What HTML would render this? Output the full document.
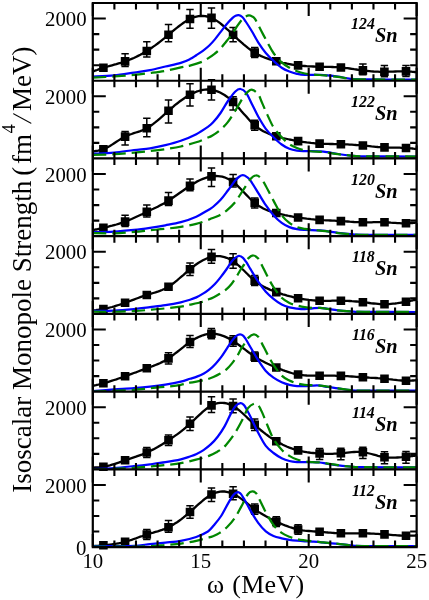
<!DOCTYPE html>
<html><head><meta charset="utf-8"><title>Isoscalar Monopole Strength - Sn isotopes</title>
<style>html,body{margin:0;padding:0;background:#fff;}body{width:429px;height:600px;overflow:hidden;font-family:"Liberation Serif",serif;}svg{display:block;will-change:transform;opacity:0.9999;}text{font-family:"Liberation Serif",serif;fill:#000;}</style>
</head><body>
<svg width="429" height="600" viewBox="0 0 429 600">
<rect x="0" y="0" width="429" height="600" fill="#fff"/>
<defs><clipPath id="clipall"><rect x="92.80" y="3.00" width="323.85" height="544.11"/></clipPath>
<clipPath id="cp0"><rect x="91.80" y="3.00" width="325.85" height="77.73"/></clipPath>
<clipPath id="cp1"><rect x="91.80" y="80.73" width="325.85" height="77.73"/></clipPath>
<clipPath id="cp2"><rect x="91.80" y="158.46" width="325.85" height="77.73"/></clipPath>
<clipPath id="cp3"><rect x="91.80" y="236.19" width="325.85" height="77.73"/></clipPath>
<clipPath id="cp4"><rect x="91.80" y="313.92" width="325.85" height="77.73"/></clipPath>
<clipPath id="cp5"><rect x="91.80" y="391.65" width="325.85" height="77.73"/></clipPath>
<clipPath id="cp6"><rect x="91.80" y="469.38" width="325.85" height="77.73"/></clipPath>
</defs>
<path clip-path="url(#cp0)" d="M92.8,71.5L93.9,71.1L94.9,70.7L96.0,70.3L97.0,70.0L98.1,69.6L99.2,69.2L100.2,68.9L101.3,68.5L102.3,68.1L103.4,67.8L105.6,67.1L107.7,66.5L109.9,65.9L112.1,65.3L114.2,64.7L116.4,64.1L118.6,63.4L120.8,62.8L122.9,62.1L125.1,61.4L127.3,60.6L129.4,59.8L131.6,58.9L133.8,58.0L135.9,57.0L138.1,55.9L140.3,54.8L142.5,53.6L144.6,52.3L146.8,51.0L149.0,49.6L151.1,48.2L153.3,46.6L155.5,45.1L157.7,43.5L159.8,41.8L162.0,40.1L164.2,38.4L166.3,36.6L168.5,34.8L170.7,33.0L172.8,31.2L174.9,29.4L177.1,27.7L179.2,26.0L181.4,24.4L183.6,22.8L185.7,21.4L187.8,20.1L190.0,19.0L192.2,18.0L194.3,17.2L196.4,16.6L198.6,16.2L200.8,16.0L202.9,15.9L205.1,16.1L207.2,16.5L209.3,17.1L211.5,17.9L213.7,19.0L215.8,20.2L218.0,21.6L220.1,23.2L222.3,25.0L224.5,26.8L226.6,28.8L228.8,30.7L230.9,32.8L233.1,34.8L235.3,36.8L237.4,38.8L239.6,40.8L241.7,42.7L243.9,44.6L246.1,46.4L248.2,48.1L250.4,49.7L252.5,51.2L254.7,52.6L256.9,53.9L259.0,55.0L261.2,56.1L263.3,57.0L265.5,57.9L267.7,58.6L269.8,59.4L272.0,60.0L274.1,60.6L276.3,61.2L278.5,61.8L280.7,62.3L282.8,62.8L285.0,63.2L287.2,63.7L289.4,64.1L291.6,64.5L293.7,64.8L295.9,65.1L298.1,65.4L300.2,65.6L302.4,65.8L304.6,66.0L306.7,66.2L308.9,66.3L311.0,66.4L313.2,66.5L315.3,66.6L317.5,66.6L319.6,66.7L321.7,66.7L323.9,66.8L326.0,66.8L328.1,66.9L330.2,66.9L332.4,67.0L334.5,67.1L336.6,67.2L338.8,67.3L340.9,67.5L343.1,67.7L345.3,68.0L347.5,68.2L349.7,68.5L351.9,68.8L354.1,69.2L356.3,69.5L358.5,69.8L360.7,70.1L362.9,70.4L365.0,70.7L367.2,70.9L369.3,71.1L371.5,71.3L373.6,71.5L375.8,71.6L377.9,71.7L380.1,71.8L382.2,71.8L384.4,71.8L386.6,71.8L388.7,71.7L390.9,71.6L393.0,71.6L395.2,71.5L397.4,71.4L399.5,71.4L401.7,71.3L403.8,71.3L406.0,71.4L407.1,71.4L408.1,71.5L409.2,71.6L410.2,71.6L411.3,71.7L412.4,71.8L413.4,71.9L414.5,72.0L415.5,72.1L416.6,72.2" fill="none" stroke="#000" stroke-width="2.3" stroke-linejoin="round"/>
<path d="M125.1,53.8V66.4M121.4,53.8H128.8M121.4,66.4H128.8M146.8,41.8V57.0M143.1,41.8H150.5M143.1,57.0H150.5M168.5,24.6V41.8M164.8,24.6H172.2M164.8,41.8H172.2M190.0,9.5V28.2M186.3,9.5H193.7M186.3,28.2H193.7M211.5,8.0V28.2M207.8,8.0H215.2M207.8,28.2H215.2M233.1,27.4V41.8M229.4,27.4H236.8M229.4,41.8H236.8M254.7,47.6V57.6M251.0,47.6H258.4M251.0,57.6H258.4M362.9,63.9V74.8M359.2,63.9H366.6M359.2,74.8H366.6M384.4,65.5V76.7M380.7,65.5H388.1M380.7,76.7H388.1M406.0,65.4V76.5M402.3,65.4H409.7M402.3,76.5H409.7" stroke="#000" stroke-width="1.5" fill="none"/>
<path d="M99.1,63.5h8.6v8.6h-8.6zM120.8,57.1h8.6v8.6h-8.6zM142.5,46.7h8.6v8.6h-8.6zM164.2,30.5h8.6v8.6h-8.6zM185.7,14.7h8.6v8.6h-8.6zM207.2,13.6h8.6v8.6h-8.6zM228.8,30.5h8.6v8.6h-8.6zM250.4,48.3h8.6v8.6h-8.6zM272.0,56.9h8.6v8.6h-8.6zM293.8,61.1h8.6v8.6h-8.6zM315.3,62.4h8.6v8.6h-8.6zM336.6,63.2h8.6v8.6h-8.6zM358.6,66.1h8.6v8.6h-8.6zM380.1,67.5h8.6v8.6h-8.6zM401.7,67.1h8.6v8.6h-8.6z" fill="#000"/>
<g clip-path="url(#cp0)">
<path d="M92.80,76.50C96.33,76.32 107.13,76.05 114.00,75.40C120.87,74.75 128.00,73.47 134.00,72.60C140.00,71.73 144.77,71.21 150.00,70.20C155.23,69.19 160.27,67.74 165.40,66.51C170.53,65.29 176.70,64.09 180.80,62.85C184.90,61.62 187.42,60.37 190.00,59.10C192.58,57.83 194.11,56.61 196.26,55.23C198.40,53.84 200.69,52.42 202.86,50.80C205.04,49.18 207.26,47.45 209.30,45.50C211.34,43.55 213.17,41.42 215.10,39.10C217.03,36.78 218.95,34.12 220.90,31.60C222.85,29.08 224.85,26.28 226.80,24.00C228.75,21.72 231.14,19.27 232.60,17.90C234.06,16.53 234.55,16.25 235.58,15.80C236.60,15.35 237.62,15.00 238.74,15.20C239.86,15.40 241.13,15.95 242.29,17.00C243.45,18.05 244.08,19.08 245.69,21.50C247.31,23.92 249.92,28.03 252.00,31.50C254.08,34.97 255.90,38.72 258.20,42.30C260.50,45.88 263.25,49.92 265.80,53.00C268.35,56.08 270.85,58.35 273.50,60.80C276.15,63.25 279.05,65.92 281.70,67.70C284.35,69.48 286.85,70.48 289.40,71.50C291.95,72.52 294.43,73.23 297.00,73.80C299.57,74.37 300.97,74.72 304.80,74.90C308.63,75.08 316.17,74.82 320.00,74.90C323.83,74.98 324.80,75.08 327.80,75.37C330.80,75.65 334.18,76.04 338.00,76.61C341.82,77.18 346.20,78.34 350.70,78.80C355.20,79.26 354.02,79.27 365.00,79.40C375.98,79.53 408.00,79.57 416.60,79.60" fill="none" stroke="#0000ff" stroke-width="2.25"/>
<path d="M92.80,77.70C96.33,77.50 107.13,76.97 114.00,76.50C120.87,76.03 128.00,75.48 134.00,74.90C140.00,74.32 144.77,73.68 150.00,73.00C155.23,72.32 160.27,71.73 165.40,70.80C170.53,69.87 176.70,68.27 180.80,67.40C184.90,66.53 186.50,66.52 190.00,65.60C193.50,64.68 198.81,63.10 201.82,61.90C204.82,60.70 205.96,59.70 208.02,58.40C210.08,57.10 212.20,55.67 214.20,54.10C216.20,52.53 218.05,51.02 220.00,49.00C221.95,46.98 223.95,44.42 225.90,42.00C227.85,39.58 229.77,37.22 231.70,34.50C233.63,31.78 235.97,27.95 237.50,25.70C239.03,23.45 239.76,22.40 240.90,21.00C242.04,19.60 243.01,18.23 244.35,17.30C245.69,16.37 247.64,15.53 248.94,15.40C250.24,15.27 251.14,15.87 252.17,16.50C253.20,17.13 253.63,16.82 255.14,19.20C256.64,21.58 259.16,26.95 261.20,30.80C263.24,34.65 265.35,38.60 267.40,42.30C269.45,46.00 271.12,49.67 273.50,53.00C275.88,56.33 279.05,59.85 281.70,62.30C284.35,64.75 286.85,66.22 289.40,67.70C291.95,69.18 294.43,70.23 297.00,71.20C299.57,72.17 302.22,72.93 304.80,73.50C307.38,74.07 309.97,74.35 312.50,74.60C315.03,74.85 317.45,74.81 320.00,75.00C322.55,75.19 324.80,75.47 327.80,75.77C330.80,76.07 334.18,76.31 338.00,76.81C341.82,77.32 346.20,78.37 350.70,78.80C355.20,79.23 354.02,79.27 365.00,79.40C375.98,79.53 408.00,79.57 416.60,79.60" fill="none" stroke="#008700" stroke-width="2.25" stroke-dasharray="13.5,5.9" stroke-dashoffset="0"/>
</g>
<path clip-path="url(#cp1)" d="M92.8,151.5L93.9,151.4L94.9,151.2L96.0,151.0L97.0,150.9L98.1,150.7L99.2,150.4L100.2,150.2L101.3,149.9L102.3,149.6L103.4,149.2L105.6,148.3L107.7,147.2L109.9,146.0L112.1,144.6L114.2,143.2L116.4,141.8L118.6,140.4L120.8,139.0L122.9,137.7L125.1,136.6L127.3,135.6L129.4,134.7L131.6,134.0L133.8,133.2L135.9,132.5L138.1,131.8L140.3,131.1L142.5,130.2L144.6,129.3L146.8,128.2L149.0,126.9L151.1,125.5L153.3,123.9L155.5,122.2L157.7,120.4L159.8,118.6L162.0,116.7L164.2,114.7L166.3,112.7L168.5,110.8L170.7,108.9L172.8,107.1L174.9,105.2L177.1,103.5L179.2,101.8L181.4,100.2L183.6,98.7L185.7,97.3L187.8,95.9L190.0,94.7L192.2,93.6L194.3,92.6L196.4,91.7L198.6,91.0L200.8,90.4L202.9,89.9L205.1,89.7L207.2,89.5L209.3,89.6L211.5,89.8L213.7,90.2L215.8,90.8L218.0,91.6L220.1,92.5L222.3,93.7L224.5,95.0L226.6,96.5L228.8,98.1L230.9,100.0L233.1,102.0L235.3,104.2L237.4,106.5L239.6,108.9L241.7,111.4L243.9,113.9L246.1,116.3L248.2,118.8L250.4,121.1L252.5,123.2L254.7,125.2L256.9,127.0L259.0,128.6L261.2,129.9L263.3,131.2L265.5,132.3L267.7,133.2L269.8,134.1L272.0,134.9L274.1,135.6L276.3,136.2L278.5,136.8L280.7,137.4L282.8,138.0L285.0,138.5L287.2,139.0L289.4,139.5L291.6,139.9L293.7,140.3L295.9,140.7L298.1,141.1L300.2,141.5L302.4,141.8L304.6,142.1L306.7,142.4L308.9,142.6L311.0,142.9L313.2,143.1L315.3,143.3L317.5,143.5L319.6,143.6L321.7,143.7L323.9,143.8L326.0,143.9L328.1,143.9L330.2,144.0L332.4,144.0L334.5,144.1L336.6,144.1L338.8,144.1L340.9,144.2L343.1,144.3L345.3,144.3L347.5,144.4L349.7,144.6L351.9,144.7L354.1,144.8L356.3,145.0L358.5,145.1L360.7,145.3L362.9,145.5L365.1,145.7L367.2,145.9L369.4,146.1L371.5,146.4L373.7,146.6L375.9,146.8L378.0,147.0L380.2,147.1L382.3,147.3L384.5,147.4L386.6,147.5L388.8,147.6L390.9,147.6L393.1,147.6L395.2,147.7L397.4,147.7L399.6,147.7L401.7,147.8L403.9,147.9L406.0,148.0L407.1,148.1L408.1,148.2L409.2,148.2L410.2,148.3L411.3,148.4L412.4,148.5L413.4,148.7L414.5,148.8L415.5,148.9L416.6,149.0" fill="none" stroke="#000" stroke-width="2.3" stroke-linejoin="round"/>
<path d="M125.1,131.6V144.9M121.4,131.6H128.8M121.4,144.9H128.8M146.8,118.3V136.8M143.1,118.3H150.5M143.1,136.8H150.5M168.5,100.0V122.9M164.8,100.0H172.2M164.8,122.9H172.2M190.0,83.8V106.0M186.3,83.8H193.7M186.3,106.0H193.7M211.5,79.8V100.0M207.8,79.8H215.2M207.8,100.0H215.2M233.1,96.8V109.9M229.4,96.8H236.8M229.4,109.9H236.8M254.7,120.2V130.2M251.0,120.2H258.4M251.0,130.2H258.4" stroke="#000" stroke-width="1.5" fill="none"/>
<path d="M99.1,144.9h8.6v8.6h-8.6zM120.8,132.3h8.6v8.6h-8.6zM142.5,123.9h8.6v8.6h-8.6zM164.2,106.5h8.6v8.6h-8.6zM185.7,90.4h8.6v8.6h-8.6zM207.2,85.5h8.6v8.6h-8.6zM228.8,97.7h8.6v8.6h-8.6zM250.4,120.9h8.6v8.6h-8.6zM272.0,131.9h8.6v8.6h-8.6zM293.8,136.8h8.6v8.6h-8.6zM315.3,139.3h8.6v8.6h-8.6zM336.6,139.9h8.6v8.6h-8.6zM358.6,141.2h8.6v8.6h-8.6zM380.2,143.1h8.6v8.6h-8.6zM401.7,143.7h8.6v8.6h-8.6z" fill="#000"/>
<g clip-path="url(#cp1)">
<path d="M92.80,153.70C96.33,153.52 107.13,153.22 114.00,152.60C120.87,151.98 128.00,150.72 134.00,150.00C140.00,149.28 144.77,149.10 150.00,148.30C155.23,147.50 160.27,146.45 165.40,145.20C170.53,143.95 175.65,142.63 180.80,140.80C185.95,138.97 191.79,136.52 196.31,134.20C200.82,131.88 205.13,128.83 207.90,126.90C210.67,124.97 210.79,124.92 212.90,122.60C215.01,120.28 218.03,116.60 220.54,113.00C223.04,109.40 225.48,104.58 227.95,101.00C230.42,97.42 233.25,93.50 235.34,91.50C237.44,89.50 238.72,88.82 240.50,89.00C242.28,89.18 244.08,90.07 246.00,92.60C247.92,95.13 249.97,100.22 252.00,104.20C254.03,108.18 255.90,112.40 258.20,116.50C260.50,120.60 263.25,125.35 265.80,128.80C268.35,132.25 270.85,134.58 273.50,137.20C276.15,139.82 279.05,142.57 281.70,144.50C284.35,146.43 286.85,147.78 289.40,148.80C291.95,149.82 294.43,150.22 297.00,150.60C299.57,150.98 300.97,150.97 304.80,151.10C308.63,151.23 316.17,151.22 320.00,151.40C323.83,151.58 324.80,151.77 327.80,152.20C330.80,152.63 334.18,153.43 338.00,154.00C341.82,154.57 346.20,155.20 350.70,155.60C355.20,156.00 354.02,156.25 365.00,156.40C375.98,156.55 408.00,156.48 416.60,156.50" fill="none" stroke="#0000ff" stroke-width="2.25"/>
<path d="M92.80,154.90C96.33,154.78 107.13,154.58 114.00,154.20C120.87,153.82 128.00,153.13 134.00,152.60C140.00,152.07 144.77,151.58 150.00,151.00C155.23,150.42 160.27,149.85 165.40,149.10C170.53,148.35 175.67,147.63 180.80,146.50C185.93,145.37 191.83,143.72 196.20,142.30C200.57,140.88 204.37,139.10 207.00,138.00C209.63,136.90 209.88,136.98 212.00,135.70C214.12,134.42 217.13,132.48 219.70,130.30C222.27,128.12 224.83,125.82 227.40,122.60C229.97,119.38 232.53,115.10 235.10,111.00C237.67,106.90 240.70,101.20 242.80,98.00C244.90,94.80 246.12,93.17 247.70,91.80C249.28,90.43 250.55,89.40 252.30,89.80C254.05,90.20 256.58,92.07 258.20,94.20C259.82,96.33 260.47,99.15 262.00,102.60C263.53,106.05 265.48,110.80 267.40,114.90C269.32,119.00 271.12,123.48 273.50,127.20C275.88,130.92 279.05,134.37 281.70,137.20C284.35,140.03 286.85,142.40 289.40,144.20C291.95,146.00 294.43,146.98 297.00,148.00C299.57,149.02 302.22,149.72 304.80,150.30C307.38,150.88 309.97,151.25 312.50,151.50C315.03,151.75 317.45,151.62 320.00,151.80C322.55,151.98 324.80,152.20 327.80,152.60C330.80,153.00 334.18,153.70 338.00,154.20C341.82,154.70 346.20,155.23 350.70,155.60C355.20,155.97 354.02,156.25 365.00,156.40C375.98,156.55 408.00,156.48 416.60,156.50" fill="none" stroke="#008700" stroke-width="2.25" stroke-dasharray="13.5,5.9" stroke-dashoffset="0"/>
</g>
<path clip-path="url(#cp2)" d="M92.8,230.2L93.9,230.0L94.9,229.7L96.0,229.5L97.0,229.3L98.1,229.0L99.2,228.8L100.2,228.5L101.3,228.3L102.3,228.0L103.4,227.8L105.6,227.3L107.7,226.8L109.9,226.2L112.1,225.7L114.2,225.1L116.4,224.5L118.6,223.8L120.8,223.1L122.9,222.4L125.1,221.6L127.3,220.8L129.4,219.9L131.6,219.0L133.8,218.0L135.9,217.0L138.1,216.0L140.3,215.0L142.5,214.0L144.6,212.9L146.8,211.9L149.0,210.9L151.1,209.8L153.3,208.8L155.5,207.7L157.7,206.7L159.8,205.5L162.0,204.4L164.2,203.2L166.3,201.9L168.5,200.6L170.7,199.2L172.8,197.8L174.9,196.3L177.1,194.8L179.2,193.3L181.4,191.7L183.6,190.2L185.7,188.7L187.8,187.2L190.0,185.8L192.2,184.4L194.3,183.2L196.4,181.9L198.6,180.8L200.8,179.8L202.9,178.9L205.1,178.1L207.2,177.4L209.3,176.8L211.5,176.4L213.7,176.1L215.8,176.0L218.0,176.1L220.1,176.3L222.3,176.7L224.5,177.3L226.6,178.2L228.8,179.2L230.9,180.5L233.1,182.0L235.3,183.7L237.4,185.7L239.6,187.8L241.7,190.0L243.9,192.3L246.1,194.6L248.2,196.8L250.4,199.0L252.5,201.0L254.7,202.9L256.9,204.6L259.0,206.0L261.2,207.3L263.3,208.5L265.5,209.5L267.7,210.3L269.8,211.1L272.0,211.8L274.1,212.4L276.3,213.0L278.5,213.6L280.7,214.1L282.8,214.6L285.0,215.1L287.2,215.5L289.4,216.0L291.6,216.4L293.7,216.8L295.9,217.2L298.1,217.5L300.2,217.8L302.4,218.1L304.6,218.4L306.7,218.7L308.9,218.9L311.0,219.2L313.2,219.4L315.3,219.6L317.5,219.7L319.6,219.9L321.7,220.0L323.9,220.2L326.0,220.3L328.1,220.4L330.2,220.5L332.4,220.6L334.5,220.7L336.6,220.9L338.8,221.0L340.9,221.1L343.1,221.2L345.3,221.4L347.5,221.5L349.7,221.7L351.9,221.8L354.1,222.0L356.3,222.1L358.5,222.2L360.7,222.2L362.9,222.3L365.1,222.3L367.2,222.3L369.4,222.3L371.5,222.3L373.7,222.2L375.9,222.2L378.0,222.2L380.2,222.2L382.3,222.2L384.5,222.3L386.6,222.4L388.8,222.5L390.9,222.7L393.1,222.8L395.2,222.9L397.4,223.1L399.6,223.2L401.7,223.3L403.9,223.3L406.0,223.3L407.1,223.3L408.1,223.2L409.2,223.2L410.2,223.1L411.3,223.0L412.4,223.0L413.4,222.9L414.5,222.8L415.5,222.7L416.6,222.6" fill="none" stroke="#000" stroke-width="2.3" stroke-linejoin="round"/>
<path d="M125.1,215.2V226.6M121.4,215.2H128.8M121.4,226.6H128.8M146.8,204.9V216.9M143.1,204.9H150.5M143.1,216.9H150.5M168.5,192.6V205.6M164.8,192.6H172.2M164.8,205.6H172.2M190.0,179.0V190.8M186.3,179.0H193.7M186.3,190.8H193.7M211.5,168.0V186.4M207.8,168.0H215.2M207.8,186.4H215.2M233.1,174.5V187.0M229.4,174.5H236.8M229.4,187.0H236.8M254.7,197.9V207.9M251.0,197.9H258.4M251.0,207.9H258.4" stroke="#000" stroke-width="1.5" fill="none"/>
<path d="M99.1,223.5h8.6v8.6h-8.6zM120.8,217.3h8.6v8.6h-8.6zM142.5,207.6h8.6v8.6h-8.6zM164.2,196.3h8.6v8.6h-8.6zM185.7,181.5h8.6v8.6h-8.6zM207.2,172.1h8.6v8.6h-8.6zM228.8,177.7h8.6v8.6h-8.6zM250.4,198.6h8.6v8.6h-8.6zM272.0,208.7h8.6v8.6h-8.6zM293.8,213.2h8.6v8.6h-8.6zM315.3,215.6h8.6v8.6h-8.6zM336.6,216.8h8.6v8.6h-8.6zM358.6,218.0h8.6v8.6h-8.6zM380.2,218.0h8.6v8.6h-8.6zM401.7,219.0h8.6v8.6h-8.6z" fill="#000"/>
<g clip-path="url(#cp2)">
<path d="M92.80,232.20C96.33,232.11 107.13,232.04 114.00,231.66C120.87,231.28 128.00,230.54 134.00,229.90C140.00,229.26 144.77,228.57 150.00,227.80C155.23,227.03 160.27,226.23 165.40,225.30C170.53,224.37 175.65,223.63 180.80,222.20C185.95,220.77 191.79,218.71 196.31,216.71C200.82,214.71 205.13,211.82 207.90,210.20C210.67,208.58 210.78,208.73 212.90,207.00C215.02,205.27 218.07,202.60 220.60,199.80C223.13,197.00 225.60,193.45 228.07,190.20C230.54,186.95 233.59,182.55 235.44,180.30C237.29,178.05 237.92,177.55 239.15,176.70C240.38,175.85 241.54,175.18 242.80,175.20C244.06,175.22 245.42,175.90 246.70,176.80C247.98,177.70 248.58,177.92 250.50,180.60C252.42,183.28 255.65,188.80 258.20,192.90C260.75,197.00 263.25,201.48 265.80,205.20C268.35,208.92 270.85,212.25 273.50,215.20C276.15,218.15 279.05,220.92 281.70,222.90C284.35,224.88 286.85,226.07 289.40,227.10C291.95,228.13 294.43,228.65 297.00,229.10C299.57,229.55 300.97,229.60 304.80,229.80C308.63,230.00 316.17,230.04 320.00,230.30C323.83,230.56 324.80,230.93 327.80,231.37C330.80,231.80 334.18,232.44 338.00,232.91C341.82,233.38 346.20,233.89 350.70,234.20C355.20,234.51 354.02,234.68 365.00,234.80C375.98,234.92 408.00,234.88 416.60,234.90" fill="none" stroke="#0000ff" stroke-width="2.25"/>
<path d="M92.80,233.20C96.33,233.21 107.13,233.48 114.00,233.26C120.87,233.04 128.00,232.39 134.00,231.90C140.00,231.41 144.77,230.82 150.00,230.30C155.23,229.78 160.27,229.38 165.40,228.80C170.53,228.22 175.67,227.63 180.80,226.80C185.93,225.97 191.83,224.90 196.20,223.82C200.57,222.74 204.37,221.22 207.00,220.30C209.63,219.38 209.88,219.15 212.00,218.30C214.12,217.45 217.13,216.62 219.70,215.20C222.27,213.78 224.83,211.97 227.40,209.80C229.97,207.63 232.53,205.40 235.10,202.20C237.67,199.00 240.23,194.45 242.80,190.60C245.37,186.75 248.33,181.62 250.50,179.10C252.67,176.58 254.02,175.63 255.80,175.50C257.58,175.37 259.53,176.55 261.20,178.30C262.87,180.05 263.75,182.28 265.80,186.00C267.85,189.72 270.85,195.73 273.50,200.60C276.15,205.47 279.05,211.48 281.70,215.20C284.35,218.92 286.85,220.92 289.40,222.90C291.95,224.88 294.43,226.12 297.00,227.10C299.57,228.08 302.22,228.35 304.80,228.80C307.38,229.25 309.97,229.50 312.50,229.80C315.03,230.10 317.45,230.32 320.00,230.60C322.55,230.88 324.80,231.07 327.80,231.47C330.80,231.87 334.18,232.56 338.00,233.01C341.82,233.47 346.20,233.90 350.70,234.20C355.20,234.50 354.02,234.68 365.00,234.80C375.98,234.92 408.00,234.88 416.60,234.90" fill="none" stroke="#008700" stroke-width="2.25" stroke-dasharray="13.5,5.9" stroke-dashoffset="0"/>
</g>
<path clip-path="url(#cp3)" d="M92.8,310.6L93.9,310.5L94.9,310.3L96.0,310.2L97.0,310.0L98.1,309.9L99.2,309.7L100.2,309.6L101.3,309.4L102.3,309.2L103.4,309.0L105.6,308.6L107.7,308.1L109.9,307.5L112.1,307.0L114.2,306.4L116.4,305.7L118.6,305.0L120.8,304.3L122.9,303.6L125.1,302.8L127.3,302.0L129.4,301.2L131.6,300.4L133.8,299.6L135.9,298.8L138.1,298.0L140.3,297.2L142.5,296.4L144.6,295.7L146.8,295.0L149.0,294.3L151.1,293.7L153.3,293.0L155.5,292.4L157.7,291.7L159.8,290.9L162.0,290.0L164.2,289.0L166.3,287.9L168.5,286.7L170.7,285.3L172.8,283.8L174.9,282.1L177.1,280.3L179.2,278.5L181.4,276.6L183.6,274.8L185.7,272.9L187.8,271.0L190.0,269.2L192.2,267.5L194.3,265.8L196.4,264.3L198.6,262.8L200.8,261.5L202.9,260.3L205.1,259.2L207.2,258.3L209.3,257.5L211.5,256.9L213.7,256.5L215.8,256.2L218.0,256.1L220.1,256.2L222.3,256.6L224.5,257.1L226.6,257.8L228.8,258.7L230.9,259.8L233.1,261.2L235.3,262.8L237.4,264.5L239.6,266.4L241.7,268.5L243.9,270.5L246.1,272.7L248.2,274.8L250.4,276.8L252.5,278.8L254.7,280.6L256.9,282.3L259.0,283.8L261.2,285.2L263.3,286.4L265.5,287.6L267.7,288.6L269.8,289.6L272.0,290.5L274.1,291.3L276.3,292.1L278.5,292.9L280.7,293.6L282.8,294.3L285.0,294.9L287.2,295.6L289.4,296.2L291.6,296.7L293.7,297.3L295.9,297.7L298.1,298.2L300.2,298.6L302.4,299.0L304.6,299.3L306.7,299.6L308.9,299.9L311.0,300.1L313.2,300.3L315.3,300.5L317.5,300.6L319.6,300.7L321.7,300.8L323.9,300.8L326.0,300.8L328.1,300.8L330.2,300.8L332.4,300.7L334.5,300.7L336.6,300.7L338.8,300.7L340.9,300.7L343.1,300.7L345.3,300.8L347.5,300.9L349.7,301.0L351.9,301.2L354.1,301.3L356.3,301.5L358.5,301.7L360.7,302.0L362.9,302.2L365.1,302.5L367.2,302.7L369.4,303.0L371.5,303.3L373.7,303.5L375.9,303.7L378.0,303.9L380.2,304.1L382.3,304.2L384.5,304.2L386.6,304.2L388.8,304.1L390.9,303.9L393.1,303.7L395.2,303.5L397.4,303.2L399.6,302.8L401.7,302.5L403.9,302.1L406.0,301.7L407.1,301.5L408.1,301.3L409.2,301.1L410.2,300.9L411.3,300.7L412.4,300.5L413.4,300.2L414.5,300.0L415.5,299.8L416.6,299.6" fill="none" stroke="#000" stroke-width="2.3" stroke-linejoin="round"/>
<path d="M190.0,262.9V275.5M186.3,262.9H193.7M186.3,275.5H193.7M211.5,249.4V263.2M207.8,249.4H215.2M207.8,263.2H215.2M233.1,253.7V268.2M229.4,253.7H236.8M229.4,268.2H236.8M254.7,275.6V285.6M251.0,275.6H258.4M251.0,285.6H258.4" stroke="#000" stroke-width="1.5" fill="none"/>
<path d="M99.1,304.7h8.6v8.6h-8.6zM120.8,298.5h8.6v8.6h-8.6zM142.5,290.7h8.6v8.6h-8.6zM164.2,282.4h8.6v8.6h-8.6zM185.7,264.9h8.6v8.6h-8.6zM207.2,252.6h8.6v8.6h-8.6zM228.8,256.9h8.6v8.6h-8.6zM250.4,276.3h8.6v8.6h-8.6zM272.0,287.8h8.6v8.6h-8.6zM293.8,293.9h8.6v8.6h-8.6zM315.3,296.4h8.6v8.6h-8.6zM336.6,296.4h8.6v8.6h-8.6zM358.6,297.9h8.6v8.6h-8.6zM380.2,299.9h8.6v8.6h-8.6zM401.7,297.4h8.6v8.6h-8.6z" fill="#000"/>
<g clip-path="url(#cp3)">
<path d="M92.80,310.90C96.33,310.86 107.13,310.96 114.00,310.66C120.87,310.36 128.00,309.68 134.00,309.10C140.00,308.52 144.77,307.85 150.00,307.20C155.23,306.55 160.27,306.02 165.40,305.20C170.53,304.38 176.70,303.22 180.80,302.30C184.90,301.38 187.42,300.52 190.00,299.70C192.58,298.88 194.14,298.38 196.31,297.37C198.47,296.37 200.86,295.02 202.99,293.67C205.13,292.33 207.12,290.91 209.10,289.30C211.08,287.69 212.97,286.03 214.90,284.00C216.83,281.97 218.79,279.52 220.70,277.10C222.61,274.68 224.52,272.10 226.35,269.50C228.17,266.90 230.11,263.48 231.66,261.50C233.20,259.52 234.28,258.52 235.59,257.60C236.90,256.68 238.30,255.97 239.53,256.00C240.77,256.03 241.92,256.85 243.00,257.80C244.08,258.75 244.75,259.82 246.00,261.70C247.25,263.58 248.47,265.77 250.50,269.10C252.53,272.43 255.65,277.93 258.20,281.70C260.75,285.47 263.25,288.85 265.80,291.70C268.35,294.55 270.85,296.67 273.50,298.80C276.15,300.93 279.05,303.07 281.70,304.50C284.35,305.93 286.85,306.72 289.40,307.40C291.95,308.08 294.43,308.32 297.00,308.60C299.57,308.88 302.22,309.15 304.80,309.10C307.38,309.05 309.97,308.52 312.50,308.30C315.03,308.08 317.45,307.70 320.00,307.80C322.55,307.90 324.80,308.47 327.80,308.90C330.80,309.33 334.18,310.00 338.00,310.40C341.82,310.80 346.20,311.05 350.70,311.30C355.20,311.55 354.02,311.78 365.00,311.90C375.98,312.02 408.00,311.98 416.60,312.00" fill="none" stroke="#0000ff" stroke-width="2.25"/>
<path d="M92.80,311.70C96.33,311.71 107.13,311.86 114.00,311.75C120.87,311.65 128.00,311.43 134.00,311.10C140.00,310.77 144.77,310.25 150.00,309.80C155.23,309.35 160.27,308.93 165.40,308.40C170.53,307.87 176.70,307.22 180.80,306.60C184.90,305.98 186.52,305.47 190.00,304.70C193.48,303.93 198.78,302.80 201.70,301.99C204.62,301.17 205.57,300.56 207.50,299.80C209.43,299.04 211.32,298.37 213.30,297.40C215.28,296.43 217.32,295.25 219.39,294.00C221.45,292.75 223.68,291.57 225.70,289.90C227.72,288.23 229.57,286.43 231.50,284.00C233.43,281.57 235.77,277.72 237.30,275.30C238.83,272.88 239.56,271.30 240.70,269.50C241.84,267.70 242.90,266.35 244.16,264.50C245.42,262.65 246.76,259.90 248.26,258.40C249.77,256.90 251.54,255.47 253.20,255.50C254.86,255.53 256.73,256.93 258.20,258.60C259.67,260.27 260.47,262.55 262.00,265.50C263.53,268.45 265.48,272.70 267.40,276.30C269.32,279.90 271.12,283.52 273.50,287.10C275.88,290.68 279.05,295.17 281.70,297.80C284.35,300.43 286.85,301.62 289.40,302.90C291.95,304.18 294.43,304.80 297.00,305.50C299.57,306.20 302.22,306.72 304.80,307.10C307.38,307.48 309.97,307.67 312.50,307.80C315.03,307.93 317.45,307.72 320.00,307.90C322.55,308.08 324.80,308.48 327.80,308.90C330.80,309.32 334.18,310.00 338.00,310.40C341.82,310.80 346.20,311.05 350.70,311.30C355.20,311.55 354.02,311.78 365.00,311.90C375.98,312.02 408.00,311.98 416.60,312.00" fill="none" stroke="#008700" stroke-width="2.25" stroke-dasharray="13.5,5.9" stroke-dashoffset="0"/>
</g>
<path clip-path="url(#cp4)" d="M92.8,385.9L93.9,385.7L94.9,385.4L96.0,385.2L97.0,384.9L98.1,384.7L99.2,384.4L100.2,384.1L101.3,383.9L102.3,383.6L103.4,383.3L105.6,382.7L107.7,382.1L109.9,381.4L112.1,380.7L114.2,380.0L116.4,379.3L118.6,378.5L120.8,377.8L122.9,377.0L125.1,376.2L127.3,375.4L129.4,374.6L131.6,373.8L133.8,373.0L135.9,372.3L138.1,371.5L140.3,370.7L142.5,369.9L144.6,369.1L146.8,368.3L149.0,367.5L151.1,366.7L153.3,365.9L155.5,365.0L157.7,364.1L159.8,363.2L162.0,362.1L164.2,361.0L166.3,359.8L168.5,358.4L170.7,356.9L172.8,355.4L174.9,353.7L177.1,352.0L179.2,350.3L181.4,348.6L183.6,346.9L185.7,345.2L187.8,343.5L190.0,342.0L192.1,340.6L194.3,339.3L196.4,338.1L198.6,337.0L200.7,336.1L202.8,335.3L205.0,334.6L207.1,334.2L209.3,333.8L211.4,333.7L213.6,333.7L215.7,333.9L217.9,334.3L220.1,334.9L222.2,335.6L224.4,336.4L226.6,337.4L228.8,338.5L230.9,339.7L233.1,341.0L235.3,342.4L237.4,343.9L239.6,345.5L241.7,347.1L243.9,348.7L246.1,350.4L248.2,352.0L250.4,353.6L252.5,355.1L254.7,356.6L256.9,358.0L259.0,359.3L261.2,360.5L263.3,361.6L265.5,362.7L267.7,363.8L269.8,364.7L272.0,365.7L274.1,366.6L276.3,367.5L278.5,368.4L280.7,369.2L282.8,370.1L285.0,370.9L287.2,371.6L289.4,372.3L291.6,373.0L293.7,373.6L295.9,374.1L298.1,374.5L300.2,374.9L302.4,375.1L304.6,375.3L306.7,375.5L308.9,375.6L311.0,375.7L313.2,375.7L315.3,375.7L317.5,375.7L319.6,375.7L321.7,375.7L323.9,375.7L326.0,375.7L328.1,375.7L330.2,375.7L332.4,375.7L334.5,375.7L336.6,375.8L338.8,375.8L340.9,375.9L343.1,376.0L345.3,376.1L347.5,376.2L349.7,376.4L351.9,376.5L354.1,376.7L356.3,376.9L358.5,377.0L360.7,377.2L362.9,377.3L365.1,377.4L367.2,377.5L369.4,377.7L371.5,377.8L373.7,377.9L375.9,378.0L378.0,378.2L380.2,378.3L382.3,378.5L384.5,378.7L386.6,378.9L388.8,379.2L390.9,379.4L393.1,379.7L395.2,379.9L397.4,380.2L399.6,380.4L401.7,380.5L403.9,380.6L406.0,380.7L407.1,380.7L408.1,380.7L409.2,380.7L410.2,380.6L411.3,380.6L412.4,380.5L413.4,380.5L414.5,380.4L415.5,380.4L416.6,380.3" fill="none" stroke="#000" stroke-width="2.3" stroke-linejoin="round"/>
<path d="M168.5,352.8V364.0M164.8,352.8H172.2M164.8,364.0H172.2M190.0,335.6V347.6M186.3,335.6H193.7M186.3,347.6H193.7M211.4,328.6V338.8M207.7,328.6H215.1M207.7,338.8H215.1M233.1,335.8V346.2M229.4,335.8H236.8M229.4,346.2H236.8M254.7,352.0V361.2M251.0,352.0H258.4M251.0,361.2H258.4" stroke="#000" stroke-width="1.5" fill="none"/>
<path d="M99.1,379.0h8.6v8.6h-8.6zM120.8,371.9h8.6v8.6h-8.6zM142.5,364.0h8.6v8.6h-8.6zM164.2,354.1h8.6v8.6h-8.6zM185.7,337.7h8.6v8.6h-8.6zM207.1,329.4h8.6v8.6h-8.6zM228.8,336.7h8.6v8.6h-8.6zM250.4,352.3h8.6v8.6h-8.6zM272.0,363.2h8.6v8.6h-8.6zM293.8,370.2h8.6v8.6h-8.6zM315.3,371.4h8.6v8.6h-8.6zM336.6,371.6h8.6v8.6h-8.6zM358.6,373.0h8.6v8.6h-8.6zM380.2,374.4h8.6v8.6h-8.6zM401.7,376.4h8.6v8.6h-8.6z" fill="#000"/>
<g clip-path="url(#cp4)">
<path d="M92.80,391.10C96.33,390.83 107.13,389.98 114.00,389.47C120.87,388.96 128.00,388.54 134.00,388.05C140.00,387.56 144.77,387.12 150.00,386.53C155.23,385.95 160.27,385.34 165.40,384.52C170.53,383.71 176.70,382.60 180.80,381.64C184.90,380.68 187.32,379.61 190.00,378.77C192.68,377.93 194.57,377.46 196.88,376.58C199.19,375.71 201.67,374.75 203.87,373.51C206.08,372.26 208.10,370.81 210.10,369.12C212.10,367.44 214.00,365.49 215.90,363.40C217.80,361.31 219.64,359.12 221.49,356.60C223.34,354.08 225.24,350.97 227.00,348.30C228.76,345.63 230.51,342.68 232.08,340.60C233.64,338.52 235.03,336.85 236.37,335.80C237.70,334.75 238.93,334.30 240.10,334.30C241.27,334.30 242.39,334.93 243.38,335.80C244.36,336.67 244.81,337.60 246.00,339.50C247.19,341.40 248.47,343.75 250.50,347.20C252.53,350.65 255.65,356.23 258.20,360.20C260.75,364.17 263.25,368.08 265.80,371.00C268.35,373.92 270.85,375.83 273.50,377.70C276.15,379.57 279.05,381.02 281.70,382.20C284.35,383.38 286.85,384.15 289.40,384.80C291.95,385.45 294.43,385.88 297.00,386.10C299.57,386.32 302.22,386.18 304.80,386.10C307.38,386.02 309.97,385.68 312.50,385.60C315.03,385.52 317.45,385.37 320.00,385.60C322.55,385.83 324.80,386.51 327.80,386.96C330.80,387.41 334.18,387.76 338.00,388.30C341.82,388.84 346.20,389.82 350.70,390.20C355.20,390.58 354.02,390.52 365.00,390.60C375.98,390.68 408.00,390.68 416.60,390.70" fill="none" stroke="#0000ff" stroke-width="2.25"/>
<path d="M92.80,391.50C96.33,391.40 107.13,391.15 114.00,390.87C120.87,390.60 128.00,390.29 134.00,389.85C140.00,389.41 144.77,388.74 150.00,388.23C155.23,387.73 160.27,387.39 165.40,386.82C170.53,386.25 176.70,385.49 180.80,384.80C184.90,384.11 186.52,383.37 190.00,382.67C193.48,381.97 198.78,381.18 201.70,380.60C204.62,380.02 205.54,379.80 207.50,379.20C209.46,378.60 211.38,377.90 213.43,377.00C215.48,376.10 217.68,375.03 219.81,373.80C221.94,372.57 224.17,371.33 226.20,369.60C228.23,367.87 230.07,365.83 232.00,363.40C233.93,360.97 236.27,357.47 237.80,355.00C239.33,352.53 240.06,350.50 241.20,348.60C242.34,346.70 243.41,345.43 244.63,343.60C245.86,341.77 247.01,339.13 248.53,337.60C250.06,336.07 252.19,334.53 253.80,334.40C255.41,334.27 256.83,335.27 258.20,336.80C259.57,338.33 260.47,340.72 262.00,343.60C263.53,346.48 265.48,350.57 267.40,354.10C269.32,357.63 271.12,361.22 273.50,364.80C275.88,368.38 279.05,372.98 281.70,375.60C284.35,378.22 286.85,379.22 289.40,380.50C291.95,381.78 294.43,382.58 297.00,383.30C299.57,384.02 302.22,384.47 304.80,384.80C307.38,385.13 309.97,385.17 312.50,385.30C315.03,385.43 317.45,385.37 320.00,385.60C322.55,385.83 324.80,386.21 327.80,386.66C330.80,387.11 334.18,387.71 338.00,388.30C341.82,388.89 346.20,389.82 350.70,390.20C355.20,390.58 354.02,390.52 365.00,390.60C375.98,390.68 408.00,390.68 416.60,390.70" fill="none" stroke="#008700" stroke-width="2.25" stroke-dasharray="13.5,5.9" stroke-dashoffset="0"/>
</g>
<path clip-path="url(#cp5)" d="M92.8,467.6L93.9,467.6L94.9,467.5L96.0,467.5L97.0,467.4L98.1,467.4L99.2,467.3L100.2,467.2L101.3,467.1L102.3,467.0L103.4,466.8L105.6,466.4L107.7,465.9L109.9,465.4L112.1,464.7L114.2,464.1L116.4,463.3L118.6,462.6L120.8,461.8L122.9,461.1L125.1,460.3L127.3,459.6L129.4,458.8L131.6,458.1L133.8,457.4L135.9,456.7L138.1,455.9L140.3,455.1L142.5,454.3L144.6,453.4L146.8,452.5L149.0,451.5L151.1,450.5L153.3,449.4L155.5,448.2L157.7,447.0L159.8,445.7L162.0,444.4L164.2,443.1L166.3,441.7L168.5,440.3L170.7,438.9L172.8,437.4L174.9,435.9L177.1,434.4L179.2,432.8L181.4,431.1L183.6,429.4L185.7,427.6L187.8,425.7L190.0,423.8L192.2,421.8L194.3,419.7L196.4,417.6L198.6,415.6L200.8,413.6L202.9,411.6L205.1,409.8L207.2,408.1L209.3,406.7L211.5,405.4L213.7,404.4L215.8,403.6L218.0,403.1L220.1,402.8L222.3,402.8L224.5,403.0L226.6,403.4L228.8,404.1L230.9,405.0L233.1,406.1L235.3,407.4L237.4,409.0L239.6,410.7L241.7,412.5L243.9,414.5L246.1,416.5L248.2,418.6L250.4,420.7L252.5,422.8L254.7,424.8L256.9,426.8L259.0,428.7L261.2,430.5L263.3,432.2L265.5,433.9L267.7,435.5L269.8,437.1L272.0,438.5L274.1,439.9L276.3,441.2L278.5,442.4L280.7,443.6L282.8,444.7L285.0,445.7L287.2,446.7L289.4,447.6L291.6,448.4L293.7,449.1L295.9,449.8L298.1,450.4L300.2,450.9L302.4,451.4L304.6,451.8L306.7,452.2L308.9,452.5L311.0,452.8L313.2,453.0L315.3,453.2L317.5,453.4L319.6,453.5L321.7,453.6L323.9,453.7L326.0,453.8L328.1,453.8L330.2,453.8L332.4,453.8L334.5,453.7L336.6,453.6L338.8,453.5L340.9,453.3L343.1,453.1L345.3,452.9L347.5,452.6L349.7,452.4L351.9,452.2L354.1,452.0L356.3,451.9L358.5,451.9L360.7,452.0L362.9,452.2L365.1,452.5L367.2,453.0L369.4,453.5L371.5,454.0L373.7,454.6L375.9,455.2L378.0,455.8L380.2,456.3L382.3,456.8L384.5,457.2L386.6,457.5L388.8,457.6L390.9,457.7L393.1,457.7L395.2,457.6L397.4,457.5L399.6,457.4L401.7,457.2L403.9,456.9L406.0,456.7L407.1,456.6L408.1,456.5L409.2,456.4L410.2,456.3L411.3,456.1L412.4,456.0L413.4,455.9L414.5,455.8L415.5,455.7L416.6,455.6" fill="none" stroke="#000" stroke-width="2.3" stroke-linejoin="round"/>
<path d="M146.8,447.5V457.5M143.1,447.5H150.5M143.1,457.5H150.5M168.5,435.1V445.5M164.8,435.1H172.2M164.8,445.5H172.2M190.0,417.0V430.5M186.3,417.0H193.7M186.3,430.5H193.7M211.5,396.7V412.4M207.8,396.7H215.2M207.8,412.4H215.2M233.1,399.0V412.8M229.4,399.0H236.8M229.4,412.8H236.8M254.7,419.0V430.6M251.0,419.0H258.4M251.0,430.6H258.4M319.6,448.5V459.5M315.9,448.5H323.3M315.9,459.5H323.3M340.9,448.3V459.7M337.2,448.3H344.6M337.2,459.7H344.6M362.9,447.2V458.6M359.2,447.2H366.6M359.2,458.6H366.6M384.5,451.8V463.8M380.8,451.8H388.2M380.8,463.8H388.2M406.0,451.5V463.3M402.3,451.5H409.7M402.3,463.3H409.7" stroke="#000" stroke-width="1.5" fill="none"/>
<path d="M99.1,462.5h8.6v8.6h-8.6zM120.8,456.0h8.6v8.6h-8.6zM142.5,448.2h8.6v8.6h-8.6zM164.2,436.0h8.6v8.6h-8.6zM185.7,419.5h8.6v8.6h-8.6zM207.2,401.1h8.6v8.6h-8.6zM228.8,401.8h8.6v8.6h-8.6zM250.4,420.5h8.6v8.6h-8.6zM272.0,436.9h8.6v8.6h-8.6zM293.8,446.1h8.6v8.6h-8.6zM315.3,449.2h8.6v8.6h-8.6zM336.6,449.0h8.6v8.6h-8.6zM358.6,447.9h8.6v8.6h-8.6zM380.2,452.9h8.6v8.6h-8.6zM401.7,452.4h8.6v8.6h-8.6z" fill="#000"/>
<g clip-path="url(#cp5)">
<path d="M92.80,469.00C96.33,468.84 107.13,468.52 114.00,468.03C120.87,467.54 128.00,466.70 134.00,466.07C140.00,465.45 144.77,464.91 150.00,464.27C155.23,463.62 160.27,463.03 165.40,462.21C170.53,461.38 176.70,460.29 180.80,459.34C184.90,458.38 187.46,457.33 190.00,456.48C192.54,455.62 193.81,455.28 196.06,454.21C198.32,453.15 201.07,451.70 203.51,450.07C205.95,448.43 208.33,446.64 210.70,444.42C213.07,442.19 215.39,439.72 217.70,436.71C220.01,433.70 222.36,430.20 224.56,426.34C226.76,422.49 228.98,417.06 230.88,413.60C232.79,410.14 234.40,407.33 236.00,405.60C237.60,403.87 239.25,403.37 240.50,403.20C241.75,403.03 242.58,403.77 243.50,404.60C244.42,405.43 244.83,406.18 246.00,408.20C247.17,410.22 248.47,412.60 250.50,416.70C252.53,420.80 255.65,427.93 258.20,432.80C260.75,437.67 263.25,442.53 265.80,445.90C268.35,449.27 270.85,450.95 273.50,453.00C276.15,455.05 279.05,456.87 281.70,458.20C284.35,459.53 286.85,460.35 289.40,461.00C291.95,461.65 294.43,461.90 297.00,462.10C299.57,462.30 302.22,462.20 304.80,462.20C307.38,462.20 309.97,462.05 312.50,462.10C315.03,462.15 317.45,462.20 320.00,462.50C322.55,462.80 324.80,463.43 327.80,463.90C330.80,464.37 334.18,464.85 338.00,465.30C341.82,465.75 346.20,466.28 350.70,466.60C355.20,466.92 354.02,467.08 365.00,467.20C375.98,467.32 408.00,467.28 416.60,467.30" fill="none" stroke="#0000ff" stroke-width="2.25"/>
<path d="M92.80,469.50C96.33,469.39 107.13,469.10 114.00,468.83C120.87,468.56 128.00,468.27 134.00,467.87C140.00,467.48 144.77,466.94 150.00,466.47C155.23,465.99 160.27,465.56 165.40,465.01C170.53,464.45 175.70,464.03 180.80,463.14C185.90,462.25 192.30,460.56 196.00,459.67C199.70,458.78 200.67,458.51 203.00,457.80C205.33,457.09 207.67,456.38 210.00,455.40C212.33,454.42 215.25,452.83 217.00,451.90C218.75,450.97 219.00,450.97 220.50,449.80C222.00,448.63 223.57,447.73 226.00,444.90C228.43,442.07 232.30,437.12 235.10,432.80C237.90,428.48 240.65,423.10 242.80,419.00C244.95,414.90 246.08,410.77 248.00,408.20C249.92,405.63 252.60,404.10 254.30,403.60C256.00,403.10 256.92,403.78 258.20,405.20C259.48,406.62 260.47,408.77 262.00,412.10C263.53,415.43 265.48,420.72 267.40,425.20C269.32,429.68 271.12,434.90 273.50,439.00C275.88,443.10 279.05,446.98 281.70,449.80C284.35,452.62 286.85,454.28 289.40,455.90C291.95,457.52 294.43,458.60 297.00,459.50C299.57,460.40 302.22,460.87 304.80,461.30C307.38,461.73 309.97,461.90 312.50,462.10C315.03,462.30 317.45,462.25 320.00,462.50C322.55,462.75 324.80,463.15 327.80,463.60C330.80,464.05 334.18,464.70 338.00,465.20C341.82,465.70 346.20,466.27 350.70,466.60C355.20,466.93 354.02,467.08 365.00,467.20C375.98,467.32 408.00,467.28 416.60,467.30" fill="none" stroke="#008700" stroke-width="2.25" stroke-dasharray="13.5,5.9" stroke-dashoffset="0"/>
</g>
<path clip-path="url(#cp6)" d="M92.8,546.2L93.9,546.1L94.9,546.0L96.0,545.9L97.0,545.9L98.1,545.8L99.2,545.7L100.2,545.6L101.3,545.5L102.3,545.4L103.4,545.3L105.6,545.1L107.7,544.9L109.9,544.6L112.1,544.3L114.2,544.0L116.4,543.7L118.6,543.3L120.8,542.9L122.9,542.4L125.1,541.8L127.3,541.2L129.4,540.5L131.6,539.8L133.8,539.0L135.9,538.3L138.1,537.5L140.3,536.7L142.5,536.0L144.6,535.2L146.8,534.5L149.0,533.8L151.1,533.2L153.3,532.6L155.5,531.9L157.7,531.3L159.8,530.6L162.0,529.9L164.2,529.1L166.3,528.2L168.5,527.2L170.7,526.1L172.8,524.9L174.9,523.6L177.1,522.2L179.2,520.7L181.4,519.1L183.6,517.4L185.7,515.7L187.8,513.9L190.0,512.0L192.2,510.1L194.3,508.1L196.4,506.1L198.6,504.2L200.8,502.3L202.9,500.5L205.1,498.7L207.2,497.2L209.3,495.7L211.5,494.5L213.7,493.5L215.8,492.7L218.0,492.1L220.1,491.7L222.3,491.5L224.5,491.5L226.6,491.8L228.8,492.3L230.9,492.9L233.1,493.8L235.3,494.9L237.4,496.1L239.6,497.6L241.7,499.1L243.9,500.7L246.1,502.4L248.2,504.1L250.4,505.8L252.5,507.5L254.7,509.1L256.9,510.6L259.0,512.1L261.2,513.5L263.3,514.8L265.5,516.1L267.7,517.3L269.8,518.4L272.0,519.5L274.1,520.6L276.3,521.6L278.5,522.6L280.7,523.6L282.8,524.5L285.0,525.4L287.2,526.2L289.4,527.0L291.6,527.7L293.7,528.4L295.9,529.0L298.1,529.5L300.2,529.9L302.4,530.3L304.6,530.6L306.7,530.8L308.9,531.0L311.0,531.2L313.2,531.4L315.3,531.5L317.5,531.7L319.6,531.8L321.7,532.0L323.9,532.1L326.0,532.3L328.1,532.5L330.2,532.6L332.4,532.8L334.5,533.0L336.6,533.1L338.8,533.2L340.9,533.3L343.1,533.4L345.3,533.4L347.5,533.4L349.7,533.4L351.9,533.4L354.1,533.3L356.3,533.3L358.5,533.3L360.7,533.3L362.9,533.3L365.1,533.3L367.2,533.4L369.4,533.5L371.5,533.6L373.7,533.7L375.9,533.8L378.0,533.9L380.2,534.1L382.3,534.2L384.5,534.4L386.6,534.6L388.8,534.7L390.9,534.9L393.1,535.1L395.2,535.2L397.4,535.4L399.6,535.5L401.7,535.6L403.9,535.7L406.0,535.7L407.1,535.7L408.1,535.7L409.2,535.7L410.2,535.7L411.3,535.7L412.4,535.6L413.4,535.6L414.5,535.6L415.5,535.5L416.6,535.5" fill="none" stroke="#000" stroke-width="2.3" stroke-linejoin="round"/>
<path d="M146.8,529.4V539.6M143.1,529.4H150.5M143.1,539.6H150.5M168.5,520.6V532.2M164.8,520.6H172.2M164.8,532.2H172.2M190.0,505.7V518.3M186.3,505.7H193.7M186.3,518.3H193.7M211.5,488.0V501.4M207.8,488.0H215.2M207.8,501.4H215.2M233.1,486.8V499.8M229.4,486.8H236.8M229.4,499.8H236.8M254.7,503.9V514.3M251.0,503.9H258.4M251.0,514.3H258.4M276.3,516.8V526.4M272.6,516.8H280.0M272.6,526.4H280.0M298.1,524.8V534.2M294.4,524.8H301.8M294.4,534.2H301.8" stroke="#000" stroke-width="1.5" fill="none"/>
<path d="M99.1,541.0h8.6v8.6h-8.6zM120.8,537.5h8.6v8.6h-8.6zM142.5,530.2h8.6v8.6h-8.6zM164.2,522.9h8.6v8.6h-8.6zM185.7,507.7h8.6v8.6h-8.6zM207.2,490.2h8.6v8.6h-8.6zM228.8,489.5h8.6v8.6h-8.6zM250.4,504.8h8.6v8.6h-8.6zM272.0,517.3h8.6v8.6h-8.6zM293.8,525.2h8.6v8.6h-8.6zM315.3,527.5h8.6v8.6h-8.6zM336.6,529.0h8.6v8.6h-8.6zM358.6,529.0h8.6v8.6h-8.6zM380.2,530.1h8.6v8.6h-8.6zM401.7,531.4h8.6v8.6h-8.6z" fill="#000"/>
<g clip-path="url(#cp6)">
<path d="M92.80,546.10C96.33,546.09 107.13,546.11 114.00,546.06C120.87,546.01 128.00,546.11 134.00,545.79C140.00,545.47 144.77,544.67 150.00,544.14C155.23,543.61 160.27,543.16 165.40,542.61C170.53,542.06 175.66,541.78 180.80,540.84C185.94,539.90 191.70,538.53 196.22,536.96C200.73,535.40 204.95,533.42 207.90,531.47C210.85,529.51 211.70,527.81 213.90,525.23C216.10,522.65 218.69,519.72 221.10,516.00C223.52,512.28 226.32,506.43 228.40,502.90C230.48,499.37 232.05,496.58 233.60,494.80C235.15,493.02 236.56,492.42 237.70,492.20C238.84,491.98 239.59,492.73 240.44,493.50C241.30,494.27 241.88,495.35 242.81,496.80C243.74,498.25 244.72,499.90 246.00,502.20C247.28,504.50 248.47,507.15 250.50,510.60C252.53,514.05 255.65,519.43 258.20,522.90C260.75,526.37 263.25,529.22 265.80,531.40C268.35,533.58 270.85,534.85 273.50,536.00C276.15,537.15 279.05,537.67 281.70,538.30C284.35,538.93 286.85,539.40 289.40,539.80C291.95,540.20 294.43,540.46 297.00,540.71C299.57,540.96 302.22,541.14 304.80,541.30C307.38,541.46 309.97,541.51 312.50,541.65C315.03,541.79 317.45,541.91 320.00,542.12C322.55,542.34 324.80,542.66 327.80,542.95C330.80,543.25 334.18,543.48 338.00,543.89C341.82,544.31 346.20,545.08 350.70,545.43C355.20,545.78 354.02,545.89 365.00,546.00C375.98,546.11 408.00,546.08 416.60,546.10" fill="none" stroke="#0000ff" stroke-width="2.25"/>
<path d="M92.80,546.50C96.33,546.51 107.13,546.55 114.00,546.58C120.87,546.61 128.00,546.75 134.00,546.70C140.00,546.65 144.77,546.55 150.00,546.26C155.23,545.98 160.27,545.42 165.40,544.97C170.53,544.51 175.67,544.23 180.80,543.55C185.93,542.87 191.83,541.79 196.20,540.86C200.57,539.94 204.20,538.78 207.00,538.00C209.80,537.22 210.88,537.05 213.00,536.20C215.12,535.35 217.30,534.47 219.70,532.90C222.10,531.33 224.83,529.37 227.40,526.80C229.97,524.23 232.53,521.35 235.10,517.50C237.67,513.65 240.65,507.62 242.80,503.70C244.95,499.78 246.42,496.05 248.00,494.00C249.58,491.95 250.87,491.45 252.30,491.40C253.73,491.35 255.32,492.17 256.60,493.70C257.88,495.23 258.47,497.52 260.00,500.60C261.53,503.68 263.55,508.13 265.80,512.20C268.05,516.27 270.85,521.55 273.50,525.00C276.15,528.45 279.05,530.93 281.70,532.90C284.35,534.87 286.85,535.77 289.40,536.80C291.95,537.83 294.43,538.51 297.00,539.10C299.57,539.69 302.22,539.99 304.80,540.35C307.38,540.72 309.97,541.02 312.50,541.30C315.03,541.57 317.45,541.73 320.00,542.01C322.55,542.28 324.80,542.64 327.80,542.95C330.80,543.26 334.18,543.48 338.00,543.89C341.82,544.31 346.20,545.08 350.70,545.43C355.20,545.78 354.02,545.89 365.00,546.00C375.98,546.11 408.00,546.08 416.60,546.10" fill="none" stroke="#008700" stroke-width="2.25" stroke-dasharray="13.5,5.9" stroke-dashoffset="0"/>
</g>
<path d="M92.80,65.18h6.50M416.65,65.18h-6.50M92.80,49.64h6.50M416.65,49.64h-6.50M92.80,34.09h6.50M416.65,34.09h-6.50M92.80,18.55h13.00M416.65,18.55h-13.00M92.80,3.00v13.00M92.80,80.73v-13.00M114.39,3.00v6.50M114.39,80.73v-6.50M135.98,3.00v6.50M135.98,80.73v-6.50M157.57,3.00v6.50M157.57,80.73v-6.50M179.16,3.00v6.50M179.16,80.73v-6.50M200.75,3.00v13.00M200.75,80.73v-13.00M222.34,3.00v6.50M222.34,80.73v-6.50M243.93,3.00v6.50M243.93,80.73v-6.50M265.52,3.00v6.50M265.52,80.73v-6.50M287.11,3.00v6.50M287.11,80.73v-6.50M308.70,3.00v13.00M308.70,80.73v-13.00M330.29,3.00v6.50M330.29,80.73v-6.50M351.88,3.00v6.50M351.88,80.73v-6.50M373.47,3.00v6.50M373.47,80.73v-6.50M395.06,3.00v6.50M395.06,80.73v-6.50M416.65,3.00v13.00M416.65,80.73v-13.00M92.80,142.91h6.50M416.65,142.91h-6.50M92.80,127.37h6.50M416.65,127.37h-6.50M92.80,111.82h6.50M416.65,111.82h-6.50M92.80,96.28h13.00M416.65,96.28h-13.00M92.80,80.73v13.00M92.80,158.46v-13.00M114.39,80.73v6.50M114.39,158.46v-6.50M135.98,80.73v6.50M135.98,158.46v-6.50M157.57,80.73v6.50M157.57,158.46v-6.50M179.16,80.73v6.50M179.16,158.46v-6.50M200.75,80.73v13.00M200.75,158.46v-13.00M222.34,80.73v6.50M222.34,158.46v-6.50M243.93,80.73v6.50M243.93,158.46v-6.50M265.52,80.73v6.50M265.52,158.46v-6.50M287.11,80.73v6.50M287.11,158.46v-6.50M308.70,80.73v13.00M308.70,158.46v-13.00M330.29,80.73v6.50M330.29,158.46v-6.50M351.88,80.73v6.50M351.88,158.46v-6.50M373.47,80.73v6.50M373.47,158.46v-6.50M395.06,80.73v6.50M395.06,158.46v-6.50M416.65,80.73v13.00M416.65,158.46v-13.00M92.80,220.64h6.50M416.65,220.64h-6.50M92.80,205.10h6.50M416.65,205.10h-6.50M92.80,189.55h6.50M416.65,189.55h-6.50M92.80,174.01h13.00M416.65,174.01h-13.00M92.80,158.46v13.00M92.80,236.19v-13.00M114.39,158.46v6.50M114.39,236.19v-6.50M135.98,158.46v6.50M135.98,236.19v-6.50M157.57,158.46v6.50M157.57,236.19v-6.50M179.16,158.46v6.50M179.16,236.19v-6.50M200.75,158.46v13.00M200.75,236.19v-13.00M222.34,158.46v6.50M222.34,236.19v-6.50M243.93,158.46v6.50M243.93,236.19v-6.50M265.52,158.46v6.50M265.52,236.19v-6.50M287.11,158.46v6.50M287.11,236.19v-6.50M308.70,158.46v13.00M308.70,236.19v-13.00M330.29,158.46v6.50M330.29,236.19v-6.50M351.88,158.46v6.50M351.88,236.19v-6.50M373.47,158.46v6.50M373.47,236.19v-6.50M395.06,158.46v6.50M395.06,236.19v-6.50M416.65,158.46v13.00M416.65,236.19v-13.00M92.80,298.37h6.50M416.65,298.37h-6.50M92.80,282.83h6.50M416.65,282.83h-6.50M92.80,267.28h6.50M416.65,267.28h-6.50M92.80,251.74h13.00M416.65,251.74h-13.00M92.80,236.19v13.00M92.80,313.92v-13.00M114.39,236.19v6.50M114.39,313.92v-6.50M135.98,236.19v6.50M135.98,313.92v-6.50M157.57,236.19v6.50M157.57,313.92v-6.50M179.16,236.19v6.50M179.16,313.92v-6.50M200.75,236.19v13.00M200.75,313.92v-13.00M222.34,236.19v6.50M222.34,313.92v-6.50M243.93,236.19v6.50M243.93,313.92v-6.50M265.52,236.19v6.50M265.52,313.92v-6.50M287.11,236.19v6.50M287.11,313.92v-6.50M308.70,236.19v13.00M308.70,313.92v-13.00M330.29,236.19v6.50M330.29,313.92v-6.50M351.88,236.19v6.50M351.88,313.92v-6.50M373.47,236.19v6.50M373.47,313.92v-6.50M395.06,236.19v6.50M395.06,313.92v-6.50M416.65,236.19v13.00M416.65,313.92v-13.00M92.80,376.10h6.50M416.65,376.10h-6.50M92.80,360.56h6.50M416.65,360.56h-6.50M92.80,345.01h6.50M416.65,345.01h-6.50M92.80,329.47h13.00M416.65,329.47h-13.00M92.80,313.92v13.00M92.80,391.65v-13.00M114.39,313.92v6.50M114.39,391.65v-6.50M135.98,313.92v6.50M135.98,391.65v-6.50M157.57,313.92v6.50M157.57,391.65v-6.50M179.16,313.92v6.50M179.16,391.65v-6.50M200.75,313.92v13.00M200.75,391.65v-13.00M222.34,313.92v6.50M222.34,391.65v-6.50M243.93,313.92v6.50M243.93,391.65v-6.50M265.52,313.92v6.50M265.52,391.65v-6.50M287.11,313.92v6.50M287.11,391.65v-6.50M308.70,313.92v13.00M308.70,391.65v-13.00M330.29,313.92v6.50M330.29,391.65v-6.50M351.88,313.92v6.50M351.88,391.65v-6.50M373.47,313.92v6.50M373.47,391.65v-6.50M395.06,313.92v6.50M395.06,391.65v-6.50M416.65,313.92v13.00M416.65,391.65v-13.00M92.80,453.83h6.50M416.65,453.83h-6.50M92.80,438.29h6.50M416.65,438.29h-6.50M92.80,422.74h6.50M416.65,422.74h-6.50M92.80,407.20h13.00M416.65,407.20h-13.00M92.80,391.65v13.00M92.80,469.38v-13.00M114.39,391.65v6.50M114.39,469.38v-6.50M135.98,391.65v6.50M135.98,469.38v-6.50M157.57,391.65v6.50M157.57,469.38v-6.50M179.16,391.65v6.50M179.16,469.38v-6.50M200.75,391.65v13.00M200.75,469.38v-13.00M222.34,391.65v6.50M222.34,469.38v-6.50M243.93,391.65v6.50M243.93,469.38v-6.50M265.52,391.65v6.50M265.52,469.38v-6.50M287.11,391.65v6.50M287.11,469.38v-6.50M308.70,391.65v13.00M308.70,469.38v-13.00M330.29,391.65v6.50M330.29,469.38v-6.50M351.88,391.65v6.50M351.88,469.38v-6.50M373.47,391.65v6.50M373.47,469.38v-6.50M395.06,391.65v6.50M395.06,469.38v-6.50M416.65,391.65v13.00M416.65,469.38v-13.00M92.80,531.56h6.50M416.65,531.56h-6.50M92.80,516.02h6.50M416.65,516.02h-6.50M92.80,500.47h6.50M416.65,500.47h-6.50M92.80,484.93h13.00M416.65,484.93h-13.00M92.80,469.38v13.00M92.80,547.11v-13.00M114.39,469.38v6.50M114.39,547.11v-6.50M135.98,469.38v6.50M135.98,547.11v-6.50M157.57,469.38v6.50M157.57,547.11v-6.50M179.16,469.38v6.50M179.16,547.11v-6.50M200.75,469.38v13.00M200.75,547.11v-13.00M222.34,469.38v6.50M222.34,547.11v-6.50M243.93,469.38v6.50M243.93,547.11v-6.50M265.52,469.38v6.50M265.52,547.11v-6.50M287.11,469.38v6.50M287.11,547.11v-6.50M308.70,469.38v13.00M308.70,547.11v-13.00M330.29,469.38v6.50M330.29,547.11v-6.50M351.88,469.38v6.50M351.88,547.11v-6.50M373.47,469.38v6.50M373.47,547.11v-6.50M395.06,469.38v6.50M395.06,547.11v-6.50M416.65,469.38v13.00M416.65,547.11v-13.00" stroke="#000" stroke-width="2.1" fill="none"/>
<path d="M92.80,3.00H416.65V547.11H92.80ZM92.80,80.73H416.65M92.80,158.46H416.65M92.80,236.19H416.65M92.80,313.92H416.65M92.80,391.65H416.65M92.80,469.38H416.65" stroke="#000" stroke-width="2.2" fill="none" stroke-linejoin="miter"/>
<text x="86.6" y="26.15" font-size="20.8" text-anchor="end">2000</text>
<text x="86.6" y="103.88" font-size="20.8" text-anchor="end">2000</text>
<text x="86.6" y="181.61" font-size="20.8" text-anchor="end">2000</text>
<text x="86.6" y="259.34" font-size="20.8" text-anchor="end">2000</text>
<text x="86.6" y="337.07" font-size="20.8" text-anchor="end">2000</text>
<text x="86.6" y="414.80" font-size="20.8" text-anchor="end">2000</text>
<text x="86.6" y="492.53" font-size="20.8" text-anchor="end">2000</text>
<text x="86.4" y="554.51" font-size="20.8" text-anchor="end">0</text>
<text x="92.80" y="567.6" font-size="20.8" text-anchor="middle">10</text>
<text x="200.75" y="567.6" font-size="20.8" text-anchor="middle">15</text>
<text x="308.70" y="567.6" font-size="20.8" text-anchor="middle">20</text>
<text x="416.65" y="567.6" font-size="20.8" text-anchor="middle">25</text>
<text x="207" y="592.8" font-size="26">ω</text><text x="232.2" y="592.8" font-size="26" textLength="72" lengthAdjust="spacing">(MeV)</text>
<g transform="translate(31.30,492.70) rotate(-90)"><text x="0" y="0" font-size="27">Isoscalar Monopole Strength</text><text x="316.9" y="0" font-size="27">(</text><text x="328.6" y="0" font-size="27">fm</text><text x="359.4" y="-16.4" font-size="18">4</text><text transform="translate(368.6,0) skewX(-11)" font-size="27">/</text><text x="381.8" y="0" font-size="27">MeV)</text></g>
<text transform="translate(374.9,42.20) scale(0.93,1)" font-size="21.9" font-weight="bold" font-style="italic">Sn</text>
<text transform="translate(374.8,29.20) scale(0.955,1)" font-size="16.6" font-weight="bold" font-style="italic" text-anchor="end">124</text>
<text transform="translate(374.9,119.93) scale(0.93,1)" font-size="21.9" font-weight="bold" font-style="italic">Sn</text>
<text transform="translate(374.8,106.93) scale(0.955,1)" font-size="16.6" font-weight="bold" font-style="italic" text-anchor="end">122</text>
<text transform="translate(374.9,197.66) scale(0.93,1)" font-size="21.9" font-weight="bold" font-style="italic">Sn</text>
<text transform="translate(374.8,184.66) scale(0.955,1)" font-size="16.6" font-weight="bold" font-style="italic" text-anchor="end">120</text>
<text transform="translate(374.9,275.39) scale(0.93,1)" font-size="21.9" font-weight="bold" font-style="italic">Sn</text>
<text transform="translate(374.8,262.39) scale(0.955,1)" font-size="16.6" font-weight="bold" font-style="italic" text-anchor="end">118</text>
<text transform="translate(374.9,353.12) scale(0.93,1)" font-size="21.9" font-weight="bold" font-style="italic">Sn</text>
<text transform="translate(374.8,340.12) scale(0.955,1)" font-size="16.6" font-weight="bold" font-style="italic" text-anchor="end">116</text>
<text transform="translate(374.9,430.85) scale(0.93,1)" font-size="21.9" font-weight="bold" font-style="italic">Sn</text>
<text transform="translate(374.8,417.85) scale(0.955,1)" font-size="16.6" font-weight="bold" font-style="italic" text-anchor="end">114</text>
<text transform="translate(374.9,508.58) scale(0.93,1)" font-size="21.9" font-weight="bold" font-style="italic">Sn</text>
<text transform="translate(374.8,495.58) scale(0.955,1)" font-size="16.6" font-weight="bold" font-style="italic" text-anchor="end">112</text>
</svg>
</body></html>
